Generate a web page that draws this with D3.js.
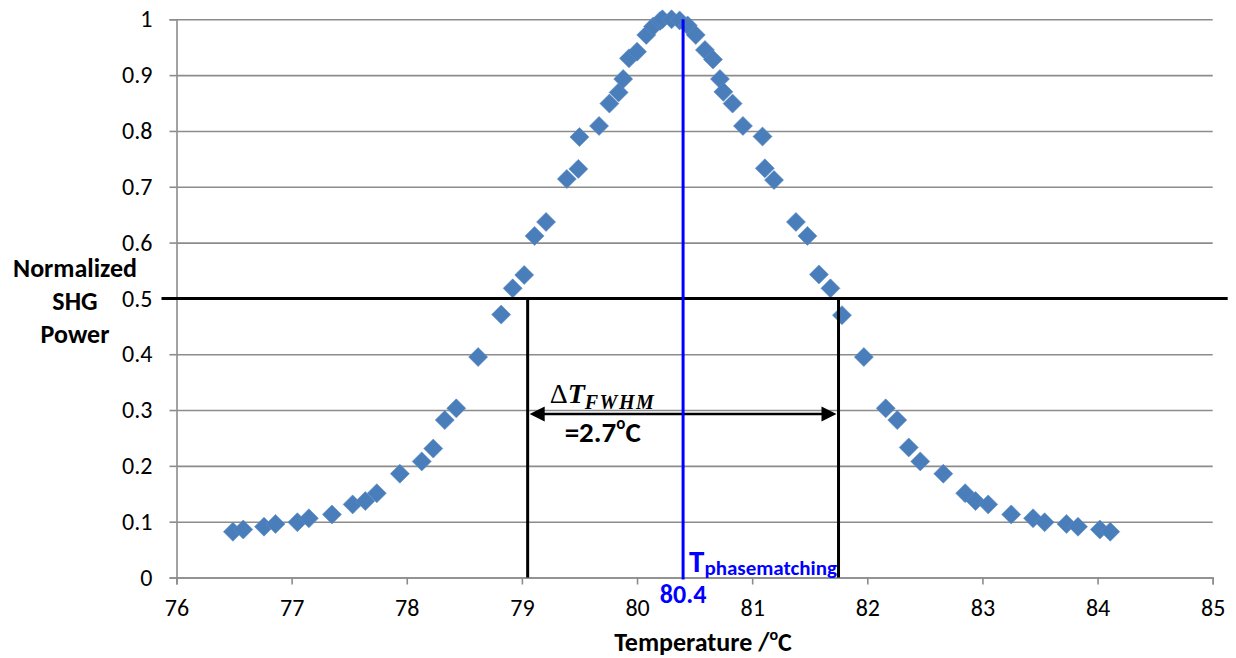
<!DOCTYPE html>
<html>
<head>
<meta charset="utf-8">
<script src="https://cdn.jsdelivr.net/npm/d3@7"></script>
<style>
  body { margin: 0; background: #ffffff; }
  svg { display: block; }
</style>
</head>
<body>
<svg id="chart" width="1236" height="658"></svg>
<script>
// Measured temperature tuning curve of the SHG output
const temperature = [
  76.49, 76.58, 76.76, 76.86, 77.05, 77.15, 77.35, 77.53, 77.64, 77.74,
  77.94, 78.13, 78.23, 78.33, 78.43, 78.62, 78.82, 78.92, 79.02, 79.11,
  79.21, 79.39, 79.49, 79.50, 79.67, 79.76, 79.84, 79.88, 79.93, 80.00,
  80.08, 80.14, 80.20, 80.22, 80.30, 80.37, 80.44, 80.51, 80.59, 80.66,
  80.72, 80.75, 80.83, 80.92, 81.09, 81.11, 81.19, 81.38, 81.48, 81.58,
  81.68, 81.78, 81.97, 82.16, 82.26, 82.36, 82.46, 82.66, 82.85, 82.94,
  83.05, 83.25, 83.44, 83.54, 83.73, 83.83, 84.02, 84.11
];
const shgPower = [
  0.082, 0.086, 0.091, 0.096, 0.099, 0.106, 0.113, 0.131, 0.137, 0.151,
  0.186, 0.208, 0.231, 0.282, 0.303, 0.395, 0.471, 0.518, 0.542, 0.612,
  0.637, 0.714, 0.732, 0.789, 0.809, 0.849, 0.869, 0.893, 0.930, 0.942,
  0.972, 0.987, 0.997, 1.000, 1.000, 0.998, 0.989, 0.972, 0.945, 0.928,
  0.893, 0.870, 0.849, 0.809, 0.790, 0.733, 0.712, 0.637, 0.612, 0.543,
  0.518, 0.470, 0.395, 0.303, 0.282, 0.233, 0.208, 0.186, 0.151, 0.137,
  0.131, 0.113, 0.106, 0.099, 0.096, 0.091, 0.086, 0.082
];
const xTickValues = [76, 77, 78, 79, 80, 81, 82, 83, 84, 85];
const yTickValues = [0, 0.1, 0.2, 0.3, 0.4, 0.5, 0.6, 0.7, 0.8, 0.9, 1];
const yTickLabels = ["0", "0.1", "0.2", "0.3", "0.4", "0.5", "0.6", "0.7", "0.8", "0.9", "1"];

// Annotation values
const tPhase = 80.4;      // phase-matching temperature (°C)
const fwhm = 2.7;         // full width at half maximum (°C)
const halfMax = 0.5;      // half of the normalised peak
const arrowLevel = 0.293; // height of the width arrow

const svg = d3.select("#chart");
const uiFont = "Carlito, Lato, 'Open Sans', sans-serif";
const gridColor = "#8c8c8c";

const x = d3.scaleLinear().domain([76, 85]).range([176.5, 1212.7]);
const y = d3.scaleLinear().domain([0, 1]).range([577.5, 19.3]);

svg.append("rect").attr("width", 1236).attr("height", 658).attr("fill", "#ffffff");

// Horizontal gridlines
svg.append("g")
  .attr("transform", `translate(${x(76)},0)`)
  .call(d3.axisLeft(y).tickValues(yTickValues).tickSize(-(x(85) - x(76))).tickFormat(""))
  .call(g => g.select(".domain").remove())
  .call(g => g.selectAll("line").attr("stroke", gridColor).attr("stroke-width", 1.6));

// Y axis
const yAxis = svg.append("g")
  .attr("transform", `translate(${x(76)},0)`)
  .call(d3.axisLeft(y).tickValues(yTickValues).tickSize(7).tickPadding(17)
    .tickFormat((d, i) => yTickLabels[i]));
yAxis.select(".domain").attr("stroke", gridColor).attr("stroke-width", 1.6);
yAxis.selectAll(".tick line").attr("stroke", gridColor).attr("stroke-width", 1.6);
yAxis.selectAll(".tick text").attr("font-family", uiFont).attr("font-size", 24).attr("fill", "#000");

// X axis
const xAxis = svg.append("g")
  .attr("transform", `translate(0,${y(0)})`)
  .call(d3.axisBottom(x).tickValues(xTickValues).tickSize(7).tickPadding(17)
    .tickFormat(d3.format("d")));
xAxis.select(".domain").attr("stroke", gridColor).attr("stroke-width", 1.6);
xAxis.selectAll(".tick line").attr("stroke", gridColor).attr("stroke-width", 1.6);
xAxis.selectAll(".tick text").attr("font-family", uiFont).attr("font-size", 24).attr("fill", "#000")
  .attr("dy", "0.62em");

// Data markers (diamonds)
const r = 9.5;
const diamond = `M0,${-r}L${r},0L0,${r}L${-r},0Z`;
svg.append("g")
  .selectAll("path")
  .data(temperature.map((t, i) => [t, shgPower[i]]))
  .join("path")
  .attr("d", diamond)
  .attr("transform", d => `translate(${x(d[0])},${y(d[1])})`)
  .attr("fill", "#4a7ebb")
  .attr("stroke", "#5b8bc4")
  .attr("stroke-width", 0.6);

// Half-maximum line
svg.append("line")
  .attr("x1", x(76) - 15).attr("x2", x(85) + 15)
  .attr("y1", y(halfMax)).attr("y2", y(halfMax))
  .attr("stroke", "#000").attr("stroke-width", 3);

// FWHM edges
const tLeft = tPhase - fwhm / 2;
const tRight = tPhase + fwhm / 2;
[tLeft, tRight].forEach(t => {
  svg.append("line")
    .attr("x1", x(t)).attr("x2", x(t))
    .attr("y1", y(halfMax)).attr("y2", y(0))
    .attr("stroke", "#000").attr("stroke-width", 3);
});

// Double-headed width arrow
const ay = y(arrowLevel);
const ah = 15, aw = 7.5;
svg.append("line")
  .attr("x1", x(tLeft) + ah).attr("x2", x(tRight) - ah)
  .attr("y1", ay).attr("y2", ay)
  .attr("stroke", "#000").attr("stroke-width", 2.5);
svg.append("path")
  .attr("d", `M${x(tLeft) + 2},${ay}L${x(tLeft) + 2 + ah},${ay - aw}L${x(tLeft) + 2 + ah},${ay + aw}Z`)
  .attr("fill", "#000");
svg.append("path")
  .attr("d", `M${x(tRight) - 2},${ay}L${x(tRight) - 2 - ah},${ay - aw}L${x(tRight) - 2 - ah},${ay + aw}Z`)
  .attr("fill", "#000");

// Phase-matching line
svg.append("line")
  .attr("x1", x(tPhase)).attr("x2", x(tPhase))
  .attr("y1", y(1)).attr("y2", y(0) + 2)
  .attr("stroke", "#0000ff").attr("stroke-width", 3);

// ΔT_FWHM label
const dt = svg.append("text")
  .attr("x", x(tLeft) + 22).attr("y", 403)
  .attr("font-family", "'Liberation Serif', 'DejaVu Serif', serif")
  .attr("fill", "#000");
dt.append("tspan").attr("font-size", 28).text("Δ");
dt.append("tspan").attr("font-size", 28).attr("font-style", "italic").attr("font-weight", "bold").text("T");
dt.append("tspan").attr("font-size", 20).attr("font-style", "italic").attr("font-weight", "bold")
  .attr("letter-spacing", 1.5).attr("dy", 6).text("FWHM");

const wl = svg.append("text")
  .attr("x", x(tLeft) + 37).attr("y", 442)
  .attr("font-family", uiFont).attr("font-weight", "bold").attr("fill", "#000");
wl.append("tspan").attr("font-size", 29).text(`=${fwhm}`);
wl.append("tspan").attr("font-size", 17).attr("dy", -13).text("o");
wl.append("tspan").attr("font-size", 29).attr("dy", 13).text("C");

// T_phasematching label and value
const tp = svg.append("text")
  .attr("x", x(tPhase) + 6).attr("y", 572)
  .attr("font-family", uiFont).attr("font-weight", "bold").attr("fill", "#0000ff");
tp.append("tspan").attr("font-size", 31).text("T");
tp.append("tspan").attr("font-size", 21).attr("dy", 3).text("phasematching");

svg.append("text")
  .attr("x", x(tPhase)).attr("y", 603)
  .attr("text-anchor", "middle")
  .attr("font-family", uiFont).attr("font-weight", "bold").attr("font-size", 26)
  .attr("fill", "#0000ff")
  .text(tPhase.toFixed(1));

// Axis titles
const yt = svg.append("text")
  .attr("text-anchor", "middle")
  .attr("font-family", uiFont).attr("font-weight", "bold").attr("font-size", 26).attr("fill", "#000");
["Normalized", "SHG", "Power"].forEach((s, i) => {
  yt.append("tspan").attr("x", 75).attr("y", 277 + i * 33).text(s);
});

const xt = svg.append("text")
  .attr("x", 703).attr("y", 651)
  .attr("text-anchor", "middle")
  .attr("font-family", uiFont).attr("font-weight", "bold").attr("font-size", 26).attr("fill", "#000");
xt.append("tspan").text("Temperature /");
xt.append("tspan").attr("font-size", 16).attr("dy", -11).text("o");
xt.append("tspan").attr("dy", 11).text("C");
</script>
</body>
</html>
